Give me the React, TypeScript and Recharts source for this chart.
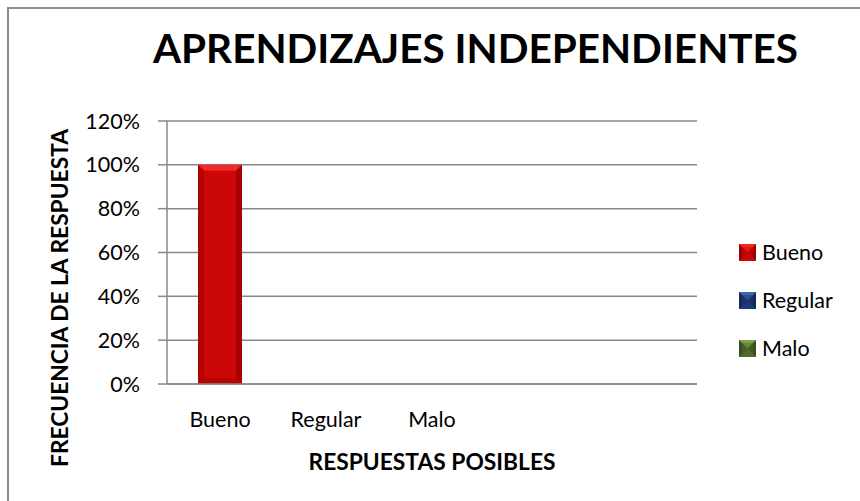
import React from "react";
import { BarChart, Bar, XAxis, YAxis, CartesianGrid, Legend } from "recharts";

// categories on the x axis (Excel left two empty slots at the end)
const categories = ["Bueno", "Regular", "Malo", "", ""];
const seriesNames = ["Bueno", "Regular", "Malo"];
const bueno = [100, 0, 0, null, null];
const regular = [0, 0, 0, null, null];
const malo = [0, 0, 0, null, null];
const yTicks = [0, 20, 40, 60, 80, 100, 120];

const seriesColors: Record<string, { main: string; light: string; dark: string }> = {
  Bueno: { main: "#CC0707", light: "#F02828", dark: "#9E0000" },
  Regular: { main: "#1F3A7A", light: "#3F63B0", dark: "#14285A" },
  Malo: { main: "#4F6A2A", light: "#7FA04A", dark: "#3A4F1C" },
};

const data = categories.map((c, i) => ({
  idx: i,
  name: c,
  Bueno: bueno[i],
  Regular: regular[i],
  Malo: malo[i],
}));

const FONT = "Lato, 'Open Sans', sans-serif";
const GRID = "#888888";

function BevelBar(props: any) {
  const { x, y, width, height, name } = props;
  if (!height || height <= 0) return null;
  const c = seriesColors[name] || seriesColors.Bueno;
  const b = 6;
  return (
    <g>
      <rect x={x} y={y} width={width} height={height} fill={c.main} />
      <polygon points={`${x},${y} ${x + width},${y} ${x + width - b},${y + b} ${x + b},${y + b}`} fill={c.light} />
      <polygon points={`${x},${y} ${x + b},${y + b} ${x + b},${y + height - b} ${x},${y + height}`} fill={c.dark} opacity={0.6} />
      <polygon points={`${x + width},${y} ${x + width - b},${y + b} ${x + width - b},${y + height - b} ${x + width},${y + height}`} fill={c.dark} opacity={0.8} />
      <polygon points={`${x},${y + height} ${x + b},${y + height - b} ${x + width - b},${y + height - b} ${x + width},${y + height}`} fill={c.dark} opacity={0.4} />
    </g>
  );
}

function LegendMarker({ name }: { name: string }) {
  const c = seriesColors[name];
  return (
    <svg width={17} height={17} style={{ display: "block", marginRight: 6 }}>
      <rect x={0} y={0} width={17} height={17} fill={c.dark} />
      <polygon points="0,0 17,0 8.5,8.5" fill={c.light} />
      <polygon points="0,17 17,17 8.5,8.5" fill={c.main} />
      <rect x={3} y={3} width={11} height={11} fill={c.main} opacity={0.5} />
    </svg>
  );
}

function renderLegend(props: any) {
  const items = [...(props.payload || [])].sort(
    (a: any, b: any) => seriesNames.indexOf(a.value) - seriesNames.indexOf(b.value)
  );
  return (
    <div style={{ position: "absolute", left: 0, top: 0, whiteSpace: "nowrap" }}>
      {items.map((p: any) => (
        <div key={p.value} style={{ display: "flex", alignItems: "center", height: 48 }}>
          <LegendMarker name={p.value} />
          <span style={{ fontFamily: FONT, fontSize: 21.5, color: "#000" }}>{p.value}</span>
        </div>
      ))}
    </div>
  );
}

export default function App() {
  return (
    <div style={{ position: "absolute", left: 0, top: 0, width: 860, height: 501, overflow: "hidden", background: "#fff" }}>
      {/* chart frame: only top/left edges show inside the picture */}
      <div style={{ position: "absolute", left: 7, top: 7, width: 900, height: 600, border: "2px solid #8c8c8c" }} />

      <BarChart
        width={860}
        height={501}
        data={data}
        margin={{ top: 121, right: 163, bottom: 77, left: 67 }}
        barSize={44}
      >
        <CartesianGrid vertical={false} stroke={GRID} strokeWidth={1.5} />
        <XAxis
          dataKey="idx"
          type="category"
          tickFormatter={(i: number) => categories[i]}
          axisLine={{ stroke: GRID, strokeWidth: 1.5 }}
          tickLine={false}
          tickSize={0}
          tickMargin={28}
          height={40}
          interval={0}
          tick={{ fontFamily: FONT, fontSize: 21.5, fill: "#000" }}
          label={{
            content: () => (
              <text x={432} y={470} textAnchor="middle" fontFamily={FONT} fontWeight="bold" fontSize={23} fill="#000" textLength={247} lengthAdjust="spacingAndGlyphs">
                RESPUESTAS POSIBLES
              </text>
            ),
          }}
        />
        <YAxis
          width={100}
          domain={[0, 120]}
          ticks={yTicks}
          interval={0}
          tickFormatter={(v: number) => `${v}%`}
          axisLine={{ stroke: GRID, strokeWidth: 1.5 }}
          tickLine={{ stroke: GRID, strokeWidth: 1.5 }}
          tickSize={9}
          tickMargin={18}
          tick={{ fontFamily: FONT, fontSize: 21.5, fill: "#000" }}
          label={{
            content: () => (
              <text transform="translate(68,298) rotate(-90)" x={0} y={0} textAnchor="middle" fontFamily={FONT} fontWeight="bold" fontSize={23} fill="#000" textLength={338} lengthAdjust="spacingAndGlyphs">
                FRECUENCIA DE LA RESPUESTA
              </text>
            ),
          }}
        />
        <Legend
          layout="vertical"
          align="right"
          verticalAlign="middle"
          content={renderLegend}
          wrapperStyle={{ left: 739, top: 228, width: 0, height: 0, right: "auto", bottom: "auto" }}
        />
        <Bar dataKey="Bueno" name="Bueno" stackId="a" fill={seriesColors.Bueno.main} shape={<BevelBar />} isAnimationActive={false} />
        <Bar dataKey="Regular" name="Regular" stackId="a" fill={seriesColors.Regular.main} shape={<BevelBar />} isAnimationActive={false} />
        <Bar dataKey="Malo" name="Malo" stackId="a" fill={seriesColors.Malo.main} shape={<BevelBar />} isAnimationActive={false} />
      </BarChart>

      <svg width={860} height={501} style={{ position: "absolute", left: 0, top: 0, pointerEvents: "none" }}>
        <text x={475.5} y={63} textAnchor="middle" fontFamily={FONT} fontWeight="bold" fontSize={41} fill="#000" textLength={645} lengthAdjust="spacingAndGlyphs">
          APRENDIZAJES INDEPENDIENTES
        </text>
      </svg>
    </div>
  );
}
